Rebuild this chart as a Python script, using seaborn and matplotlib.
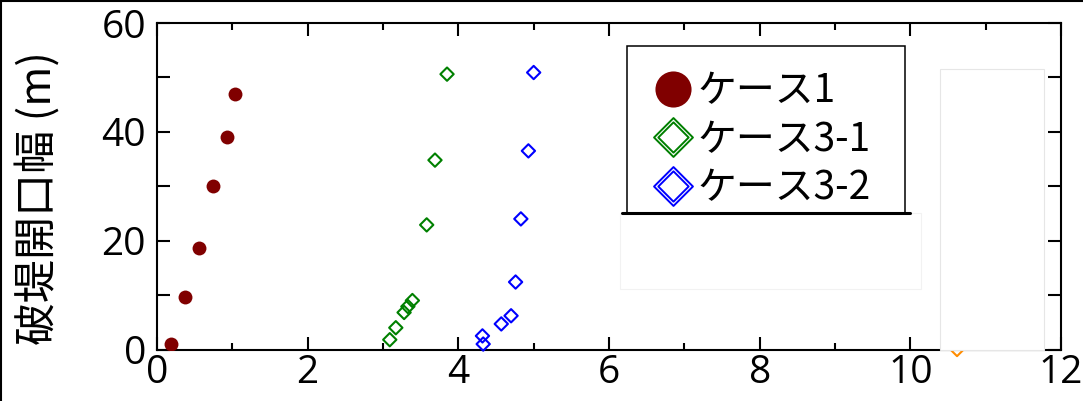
import numpy as np
import pandas as pd
import matplotlib
matplotlib.use("Agg")
import matplotlib.pyplot as plt
import seaborn as sns
from matplotlib.lines import Line2D
from matplotlib.patches import Rectangle
from matplotlib.path import Path
from matplotlib.ticker import MultipleLocator

#### Data
case1_x = [0.18, 0.37, 0.56, 0.745, 0.93, 1.04]
case1_y = [1.1, 9.6, 18.6, 30.0, 39.1, 47.0]

case31_x = [3.09, 3.17, 3.28, 3.33, 3.39, 3.58, 3.69, 3.85]
case31_y = [1.8, 4.0, 6.8, 7.9, 9.0, 22.9, 34.8, 50.6]

case32_x = [4.33, 4.32, 4.57, 4.70, 4.76, 4.83, 4.93, 5.00]
case32_y = [1.0, 2.5, 4.7, 6.2, 12.4, 24.0, 36.5, 50.9]

# stray point mostly hidden behind a blank box in the original
hidden_x = [10.62]
hidden_y = [0.0]

labels = ["ケース1", "ケース3-1", "ケース3-2"]
x_ticks = [0, 2, 4, 6, 8, 10, 12]
y_ticks = [0, 20, 40, 60]

c_case1 = "#800000"
c_case31 = "#008000"
c_case32 = "#0000ff"
c_hidden = "#ff8c00"

#### Style
sns.set_style("ticks")
plt.rcParams["font.family"] = ["Open Sans", "Noto Sans CJK JP", "DejaVu Sans"]
plt.rcParams.update({"text.color": "black", "axes.labelcolor": "black",
                     "xtick.color": "black", "ytick.color": "black"})

W, H = 1083, 401
fig = plt.figure(figsize=(W / 100, H / 100), dpi=100)
ax = fig.add_axes([157 / W, 1 - 349.5 / H, (1061 - 157) / W, (349.5 - 23) / H])

# pixel (from top-left) -> figure fraction
def px(x, y):
    return x / W, 1 - y / H

#### Points
df1 = pd.DataFrame({"x": case1_x, "y": case1_y})
df31 = pd.DataFrame({"x": case31_x, "y": case31_y})
df32 = pd.DataFrame({"x": case32_x, "y": case32_y})
dfh = pd.DataFrame({"x": hidden_x, "y": hidden_y})

sns.scatterplot(data=df1, x="x", y="y", ax=ax, marker="o", s=100,
                color=c_case1, edgecolor=c_case1, linewidth=0, zorder=3)
for d, c in [(df31, c_case31), (df32, c_case32), (dfh, c_hidden)]:
    sns.scatterplot(data=d, x="x", y="y", ax=ax, marker="D", s=46,
                    color=c, facecolor="none", edgecolor=c,
                    linewidth=1.5, zorder=3, clip_on=False)

#### Axes
ax.set_xlim(0, 12)
ax.set_ylim(0, 60)
ax.set_xticks(x_ticks)
ax.set_yticks(y_ticks)
ax.xaxis.set_minor_locator(MultipleLocator(1))
ax.yaxis.set_minor_locator(MultipleLocator(10))
ax.tick_params(which="both", direction="in", top=True, right=True,
               width=1.5, color="black", labelcolor="black", labelsize=28)
ax.tick_params(axis="x", which="major", length=9.5, pad=3)
ax.tick_params(axis="x", which="minor", length=5)
ax.tick_params(axis="y", which="both", length=9.5, pad=8)
for sp in ax.spines.values():
    sp.set_visible(True)
    sp.set_linewidth(1.5)
    sp.set_color("black")

ax.set_xlabel("")
ax.set_ylabel("破堤開口幅 (m)", fontsize=31, family=["Noto Sans CJK JP"], color="black")
ax.yaxis.label.set_va("center")
ax.yaxis.set_label_coords((39 - 157) / 904, (349.5 - 198) / 326.5)

#### Legend (double-outlined diamonds, frame drawn as its own box)
r = 0.78
diamond2 = Path(
    [(0, 1), (1, 0), (0, -1), (-1, 0), (0, 1),
     (0, r), (r, 0), (0, -r), (-r, 0), (0, r)],
    [Path.MOVETO, Path.LINETO, Path.LINETO, Path.LINETO, Path.CLOSEPOLY] * 2)

h1 = Line2D([], [], marker="o", ms=26, color=c_case1, ls="none", mew=0)
h2 = Line2D([], [], marker=diamond2, ms=28, mfc="none", mec=c_case31, mew=1.4, ls="none")
h3 = Line2D([], [], marker=diamond2, ms=28, mfc="none", mec=c_case32, mew=1.4, ls="none")

ax.add_patch(Rectangle(px(627, 213), 278 / W, 167 / H, transform=fig.transFigure,
                       facecolor="white", edgecolor="black", lw=1.1, zorder=4,
                       clip_on=False))
leg = ax.legend([h1, h2, h3], labels,
                loc="upper left", bbox_to_anchor=px(627, 44),
                bbox_transform=fig.transFigure, borderaxespad=0,
                prop={"family": ["Noto Sans CJK JP"], "size": 28},
                frameon=False, borderpad=0.7, handlelength=0.97,
                handletextpad=0.15, labelspacing=0.22, numpoints=1)
leg.set_zorder(5)

#### Leftover blank boxes and frame lines from the original image
fig.add_artist(Line2D([622 / W, 910 / W], [1 - 213 / H, 1 - 213 / H],
                      color="black", lw=2.2, transform=fig.transFigure))
fig.add_artist(Rectangle(px(620, 289), 301 / W, 76 / H, transform=fig.transFigure,
                         facecolor="white", edgecolor="#f2f2f2", lw=0.8))
fig.add_artist(Rectangle(px(940, 350), 104 / W, 281 / H, transform=fig.transFigure,
                         facecolor="white", edgecolor="#e6e6e6", lw=0.8))
fig.add_artist(Line2D([0, 1], [1 - 0.5 / H, 1 - 0.5 / H], color="black", lw=1.5,
                      transform=fig.transFigure))
fig.add_artist(Line2D([0.5 / W, 0.5 / W], [0, 1], color="black", lw=1.5,
                      transform=fig.transFigure))

fig.savefig("out.png", dpi=100)
